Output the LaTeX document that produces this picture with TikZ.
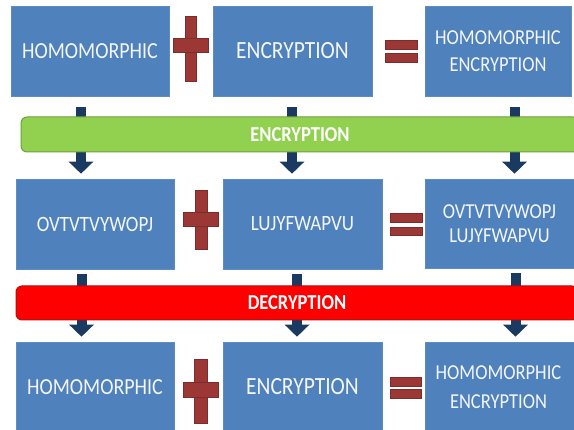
\documentclass[tikz,border=0pt]{standalone}
\usepackage{fontspec}
\setmainfont{Carlito}
\usetikzlibrary{arrows.meta}
\definecolor{boxblue}{HTML}{4F81BD}
\definecolor{boxedge}{HTML}{5D8CC4}
\definecolor{boxtext}{HTML}{F4F6FA}
\definecolor{symred}{HTML}{9B3836}
\definecolor{navy}{HTML}{1B3A62}
\definecolor{bargreen}{HTML}{92D050}
\definecolor{bargreenedge}{HTML}{6F9F3F}
\definecolor{barred}{HTML}{FF0000}
\definecolor{barrededge}{HTML}{B01010}
\newcommand{\tallt}[1]{\scalebox{1}[1.15]{#1}}
\tikzset{
  box/.style={fill=boxblue, draw=boxedge, line width=0.6pt, text=boxtext,
    minimum height=90pt, inner sep=0pt, align=center,
    font=\fontsize{20}{26}\selectfont},
  bar/.style={rounded corners=6pt, line width=1pt, text=white, inner sep=0pt,
    minimum height=35pt, font=\bfseries\fontsize{18.5}{20}\selectfont},
  conn/.style={draw=navy, line width=10pt, -{Triangle[width=24pt,length=12pt]}},
  sym/.style={fill=symred, draw=symred!80!black, line width=0.4pt},
}
\begin{document}
\begin{tikzpicture}[x=1pt,y=-1pt]
\useasboundingbox (0,0) rectangle (574,430);
% row 1
\node[box, minimum width=158pt] (A1) at (90,51) {\tallt{HOMOMORPHIC}};
\node[box, minimum width=159pt, font=\fontsize{21.5}{26}\selectfont] (A2) at (292.5,51) {\tallt{ENCRYPTION}};
\node[box, minimum width=146pt, font=\fontsize{18.5}{27}\selectfont] (A3) at (498,51) {\tallt{HOMOMORPHIC}\\\tallt{ENCRYPTION}};
% row 2
\node[box, minimum width=158pt, font=\fontsize{19}{26}\selectfont] (B1) at (95,224) {\tallt{OVTVTVYWOPJ}};
\node[box, minimum width=159pt, font=\fontsize{19}{26}\selectfont] (B2) at (302.5,224) {\tallt{LUJYFWAPVU}};
\node[box, minimum width=155pt, minimum height=89pt, font=\fontsize{18.5}{24}\selectfont] (B3) at (502.5,223.5) {\hspace*{-6pt}\tallt{OVTVTVYWOPJ}\\\hspace*{-6pt}\tallt{LUJYFWAPVU}};
% row 3
\node[box, minimum width=158pt] (C1) at (95,387) {\tallt{HOMOMORPHIC}};
\node[box, minimum width=159pt, font=\fontsize{21.5}{26}\selectfont] (C2) at (302.5,387) {\tallt{ENCRYPTION}};
\node[box, minimum width=155pt, font=\fontsize{18.5}{29}\selectfont] (C3) at (502.5,387) {\hspace*{-8pt}\tallt{HOMOMORPHIC}\\\hspace*{-8pt}\tallt{ENCRYPTION}};
% connectors row 1 -> row 2
\draw[conn] ([xshift=-9pt,yshift=-11pt]A1.south) -- ([xshift=-14pt,yshift=5pt]B1.north);
\draw[conn] ([xshift=-0.5pt,yshift=-11pt]A2.south) -- ([xshift=-10.5pt,yshift=5pt]B2.north);
\draw[conn] ([xshift=16.5pt,yshift=-11pt]A3.south) -- ([xshift=12pt,yshift=5pt]B3.north);
% connectors row 2 -> row 3
\draw[conn] ([xshift=-13.5pt,yshift=-5pt]B1.south) -- ([xshift=-13.5pt,yshift=5pt]C1.north);
\draw[conn] ([xshift=-5.5pt,yshift=-5pt]B2.south) -- ([xshift=-5.5pt,yshift=5pt]C2.north);
\draw[conn] ([xshift=13pt,yshift=-5pt]B3.south) -- ([xshift=13pt,yshift=5pt]C3.north);
% bars
\node[bar, fill=bargreen, draw=bargreenedge, minimum width=558pt] (enc) at (300,134.5) {\tallt{ENCRYPTION}};
\node[bar, fill=barred, draw=barrededge, minimum width=562pt, minimum height=34pt] (dec) at (297,303) {\tallt{DECRYPTION}};
% plus signs
\path[sym] (185,16) rectangle (196,81);
\path[sym] (173,38) rectangle (208,52);
\path[sym] (195,190) rectangle (207,249);
\path[sym] (183,212) rectangle (218,226);
\path[sym] (194,359) rectangle (207,423);
\path[sym] (183,382) rectangle (218,397);
% equals signs
\path[sym] (385,40) rectangle (417,49);
\path[sym] (385,53) rectangle (417,62);
\path[sym] (390,213) rectangle (422,222);
\path[sym] (390,227) rectangle (422,235);
\path[sym] (390,377) rectangle (421,386);
\path[sym] (390,389) rectangle (421,398);
\end{tikzpicture}
\end{document}
